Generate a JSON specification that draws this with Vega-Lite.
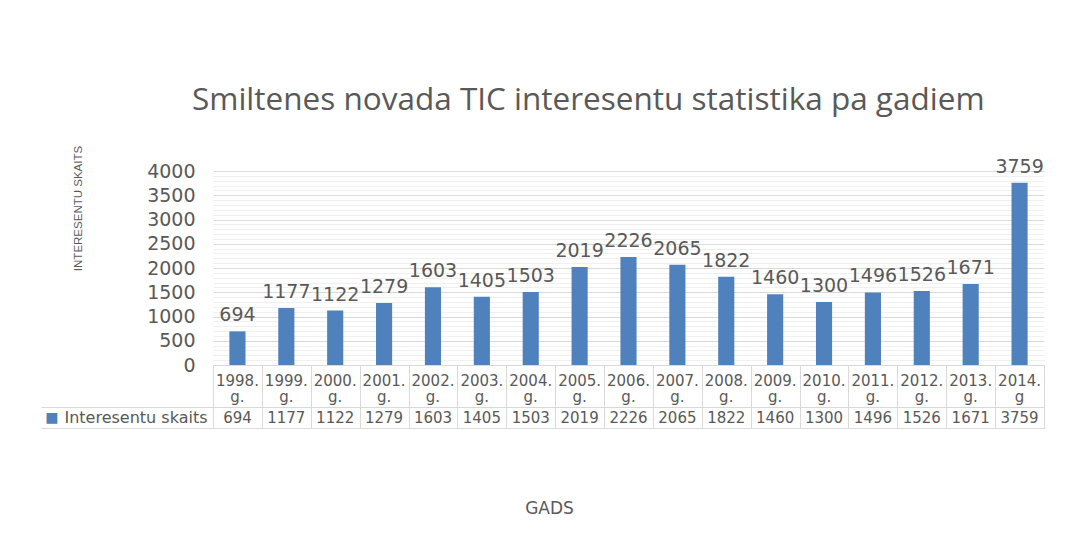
{
  "$schema": "https://vega.github.io/schema/vega-lite/v6.json",
  "background": "white",
  "padding": {"left": 40, "top": 84, "right": 20, "bottom": 10},
  "title": {"text": "Smiltenes novada TIC interesentu statistika pa gadiem", "font": "Open Sans", "fontSize": 31.5, "fontWeight": "normal", "color": "#595959", "anchor": "middle", "frame": "bounds", "dx": 46, "offset": 29},
  "data": {"values": [
    {"year": "1998", "h1": "1998.", "h2": "g.", "value": 694},
    {"year": "1999", "h1": "1999.", "h2": "g.", "value": 1177},
    {"year": "2000", "h1": "2000.", "h2": "g.", "value": 1122},
    {"year": "2001", "h1": "2001.", "h2": "g.", "value": 1279},
    {"year": "2002", "h1": "2002.", "h2": "g.", "value": 1603},
    {"year": "2003", "h1": "2003.", "h2": "g.", "value": 1405},
    {"year": "2004", "h1": "2004.", "h2": "g.", "value": 1503},
    {"year": "2005", "h1": "2005.", "h2": "g.", "value": 2019},
    {"year": "2006", "h1": "2006.", "h2": "g.", "value": 2226},
    {"year": "2007", "h1": "2007.", "h2": "g.", "value": 2065},
    {"year": "2008", "h1": "2008.", "h2": "g.", "value": 1822},
    {"year": "2009", "h1": "2009.", "h2": "g.", "value": 1460},
    {"year": "2010", "h1": "2010.", "h2": "g.", "value": 1300},
    {"year": "2011", "h1": "2011.", "h2": "g.", "value": 1496},
    {"year": "2012", "h1": "2012.", "h2": "g.", "value": 1526},
    {"year": "2013", "h1": "2013.", "h2": "g.", "value": 1671},
    {"year": "2014", "h1": "2014.", "h2": "g", "value": 3759}
  ]},
  "spacing": 0,
  "bounds": "flush",
  "vconcat": [
    {
      "width": 831,
      "height": 194,
      "view": {"stroke": null},
      "encoding": {
        "x": {"field": "year", "type": "nominal", "sort": null, "scale": {"paddingInner": 0.67, "paddingOuter": 0.335}, "axis": null},
        "y": {"field": "value", "type": "quantitative", "scale": {"domain": [0, 4000]},
          "axis": {
            "values": [0,100,200,300,400,500,600,700,800,900,1000,1100,1200,1300,1400,1500,1600,1700,1800,1900,2000,2100,2200,2300,2400,2500,2600,2700,2800,2900,3000,3100,3200,3300,3400,3500,3600,3700,3800,3900,4000],
            "labelExpr": "datum.value % 500 === 0 ? format(datum.value, 'd') : ''",
            "labelOverlap": false,
            "gridColor": {"condition": {"test": "datum.value % 500 === 0", "value": "#d9d9d9"}, "value": "#f0f0f0"},
            "ticks": false,
            "domain": false,
            "labelFont": "DejaVu Sans",
            "labelFontSize": 19,
            "labelColor": "#595959",
            "labelPadding": 18,
            "title": "INTERESENTU SKAITS",
            "titleFont": "Liberation Sans",
            "titleFontSize": 11.5,
            "titleFontWeight": "normal",
            "titleColor": "#595959",
            "titleX": -130,
            "titleY": 37
          }
        }
      },
      "layer": [
        {"mark": {"type": "bar", "color": "#4f81bd"}},
        {"mark": {"type": "text", "dy": -10, "baseline": "alphabetic", "font": "DejaVu Sans", "fontSize": 19, "color": "#595959"},
         "encoding": {"text": {"field": "value", "type": "quantitative", "format": "d"}}}
      ]
    },
    {
      "width": 831,
      "height": 63,
      "view": {"stroke": "#d9d9d9"},
      "encoding": {
        "x": {"field": "year", "type": "nominal", "sort": null, "scale": {"paddingInner": 0, "paddingOuter": 0},
          "axis": {"orient": "bottom", "labels": false, "ticks": false, "domain": false, "grid": true, "tickBand": "extent", "gridColor": "#d9d9d9",
            "title": "GADS", "titleFont": "DejaVu Sans", "titleFontSize": 17, "titleFontWeight": "normal", "titleColor": "#595959", "titlePadding": 72, "titleX": 336}}
      },
      "layer": [
        {"mark": {"type": "text", "font": "DejaVu Sans", "fontSize": 15, "color": "#595959"},
         "encoding": {
           "y": {"datum": "v", "type": "nominal", "scale": {"domain": ["h1", "h2", "v"], "paddingInner": 0, "paddingOuter": 0},
             "axis": {"orient": "left", "values": ["v"], "labelExpr": "datum.value === 'v' ? 'Interesentu skaits' : ''", "tickBand": "extent", "tickSize": 172, "tickColor": "#d9d9d9",
               "labelPadding": -166, "grid": true, "gridColor": "#d9d9d9", "domain": false, "labelFont": "DejaVu Sans", "labelFontSize": 16, "labelColor": "#595959", "title": null}},
           "text": {"field": "value", "type": "quantitative", "format": "d"}
         }},
        {"mark": {"type": "text", "font": "DejaVu Sans", "fontSize": 15, "color": "#595959", "dy": 5},
         "encoding": {
           "y": {"datum": "h1", "type": "nominal", "scale": {"domain": ["h1", "h2", "v"], "paddingInner": 0, "paddingOuter": 0}, "axis": null},
           "text": {"field": "h1", "type": "nominal"}
         }},
        {"mark": {"type": "text", "font": "DejaVu Sans", "fontSize": 15, "color": "#595959"},
         "encoding": {
           "y": {"datum": "h2", "type": "nominal", "scale": {"domain": ["h1", "h2", "v"], "paddingInner": 0, "paddingOuter": 0}, "axis": null},
           "text": {"field": "h2", "type": "nominal"}
         }},
        {"mark": {"type": "text", "text": ""},
         "encoding": {
           "x": {"field": "year", "type": "nominal", "sort": null},
           "y": {"datum": "v", "type": "nominal", "scale": {"domain": ["h1", "h2", "v"], "paddingInner": 0, "paddingOuter": 0},
             "axis": {"orient": "left", "offset": 153, "values": ["v"], "labelExpr": "datum.value === 'v' ? '■' : ''", "labelColor": "#4f81bd", "labelFont": "DejaVu Sans", "labelFontSize": 14,
               "ticks": false, "domain": false, "grid": false, "labelPadding": 2, "title": null}}
         }}
      ],
      "resolve": {"scale": {"y": "independent"}, "axis": {"y": "independent"}}
    }
  ]
}
